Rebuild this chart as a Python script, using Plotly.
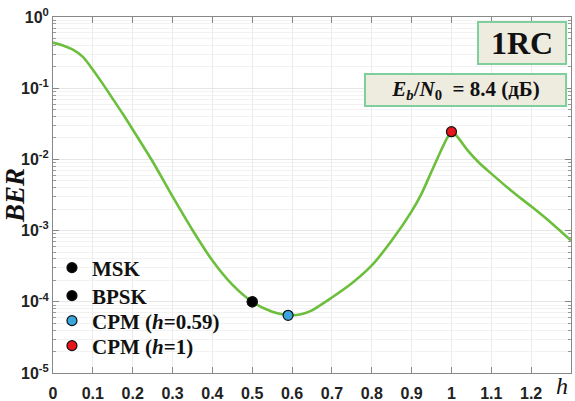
import plotly.graph_objects as go

# ---- data ----
h_vals = [0, 0.025, 0.05, 0.075, 0.1, 0.125, 0.15, 0.175, 0.2, 0.25, 0.3, 0.35, 0.4,
          0.45, 0.5, 0.55, 0.575, 0.6, 0.625, 0.65, 0.7, 0.75, 0.8, 0.85, 0.9, 0.925,
          0.95, 0.975, 0.99, 1.0, 1.01, 1.02, 1.04, 1.07, 1.1, 1.15, 1.2, 1.25, 1.3]
ber_vals = [0.4365, 0.398, 0.347, 0.275, 0.182, 0.115, 0.0708, 0.0437, 0.0263, 9.33e-3,
            3.02e-3, 1.02e-3, 3.80e-4, 1.74e-4, 1.0e-4, 7.24e-5, 6.68e-5, 6.46e-5,
            6.76e-5, 7.59e-5, 1.15e-4, 1.82e-4, 3.24e-4, 7.24e-4, 1.86e-3, 3.31e-3,
            6.76e-3, 0.0138, 0.0204, 0.0245, 0.0224, 0.0191, 0.0135, 8.91e-3, 6.31e-3,
            3.63e-3, 2.19e-3, 1.29e-3, 7.24e-4]

marker_names = ["MSK", "BPSK", "CPM (<i>h</i>=0.59)", "CPM (<i>h</i>=1)"]
marker_h = [0.5, 0.5, 0.59, 1.0]
marker_ber = [1.0e-4, 1.0e-4, 6.46e-5, 0.0245]
marker_colors = ["#000000", "#000000", "#3aa6dd", "#e8151b"]

x_ticks = [0, 0.1, 0.2, 0.3, 0.4, 0.5, 0.6, 0.7, 0.8, 0.9, 1, 1.1, 1.2]
x_ticktext = ["0", "0.1", "0.2", "0.3", "0.4", "0.5", "0.6", "0.7", "0.8", "0.9", "1", "1.1", "1.2"]
y_exps = [0, -1, -2, -3, -4, -5]
y_ticks = [10.0 ** e for e in y_exps]
y_ticktext = ["10<sup>%d</sup>" % e for e in y_exps]
y_minor = [k * 10.0 ** e for e in range(-5, 0) for k in range(2, 10)]

title_box = "1RC"
snr_box = "<i>E<sub>b</sub></i>/<i>N</i><sub>0</sub>  = 8.4 (дБ)"

serif = "Liberation Serif, Times New Roman, serif"
narrow = "Liberation Sans Narrow, Arial Narrow, Liberation Sans, Arial, sans-serif"

# plot area in pixels (layout only)
W, H = 575, 401
ML, MR, MT, MB = 53, 4, 17, 28
PH = H - MT - MB
legend_rows_px = [268, 296, 321, 346]

fig = go.Figure()
fig.add_trace(go.Scatter(
    x=h_vals, y=ber_vals, mode="lines", showlegend=False,
    line=dict(color="#6cbf3c", width=2.6, shape="spline", smoothing=0.7),
    hoverinfo="skip"))

legend_ids = ["legend", "legend2", "legend3", "legend4"]
for name, hx, by, c, lid in zip(marker_names, marker_h, marker_ber, marker_colors, legend_ids):
    fig.add_trace(go.Scatter(
        x=[hx], y=[by], mode="markers", name=name, legend=lid,
        marker=dict(color=c, size=10, line=dict(color="#111111", width=1.2))))

fig.add_annotation(
    text=title_box, xref="paper", yref="paper", x=0.992, y=0.989,
    xanchor="right", yanchor="top", showarrow=False,
    font=dict(family=serif, size=32, color="#111111", weight="bold"),
    bgcolor="#eeebdf", bordercolor="#7fcf9d", borderwidth=2, borderpad=2,
    width=82, height=36)
fig.add_annotation(
    text=snr_box, xref="paper", yref="paper", x=0.992, y=0.843,
    xanchor="right", yanchor="top", showarrow=False, align="center",
    font=dict(family=serif, size=21, color="#111111", weight="bold"),
    bgcolor="#eeebdf", bordercolor="#7fcf9d", borderwidth=2, borderpad=2,
    width=195, height=26)

legend_common = dict(
    xanchor="left", yanchor="middle", x=-0.002,
    bgcolor="rgba(0,0,0,0)", borderwidth=0,
    font=dict(family=serif, size=21, color="#111111", weight="bold"),
    itemwidth=30)
legends = {}
for lid, ypx in zip(legend_ids, legend_rows_px):
    legends[lid] = dict(legend_common, y=1 - (ypx - MT) / PH)

fig.update_layout(
    width=W, height=H,
    margin=dict(l=ML, r=MR, t=MT, b=MB),
    paper_bgcolor="white", plot_bgcolor="white",
    showlegend=True,
    **legends,
)
fig.update_xaxes(
    range=[0, 1.3], tickvals=x_ticks, ticktext=x_ticktext, automargin=False,
    showgrid=True, gridcolor="#ececec", gridwidth=1,
    ticks="inside", ticklen=6, tickcolor="#888888",
    showline=True, linecolor="#888888", linewidth=1, mirror="ticks",
    zeroline=False, ticklabelstandoff=6,
    tickfont=dict(family=narrow, size=16, color="#222222", weight="bold"),
    title=None)
fig.update_yaxes(
    type="log", range=[-5, 0], tickvals=y_ticks, ticktext=y_ticktext, automargin=False,
    showgrid=True, gridcolor="#e6e6e6", gridwidth=1,
    ticks="inside", ticklen=6, tickcolor="#888888",
    showline=True, linecolor="#888888", linewidth=1, mirror="ticks",
    zeroline=False,
    minor=dict(tickvals=y_minor, ticks="inside", ticklen=3, tickcolor="#999999",
               showgrid=True, gridcolor="#f2f2f2"),
    tickfont=dict(family=narrow, size=16, color="#222222", weight="bold"),
    title=dict(text="<i>BER</i>", font=dict(family=serif, size=27, color="#111111", weight="bold"),
               standoff=0))
fig.add_annotation(
    text="<i>h</i>", xref="paper", yref="paper", x=0.998, y=0.0, xanchor="right", yanchor="middle",
    yshift=-13, showarrow=False, font=dict(family=serif, size=24, color="#111111"))

fig.write_html(
    "out.html",
    config={"displayModeBar": False},
    post_script="document.body.style.margin='0px';document.body.style.padding='0px';"
                "document.body.style.overflow='hidden';")
